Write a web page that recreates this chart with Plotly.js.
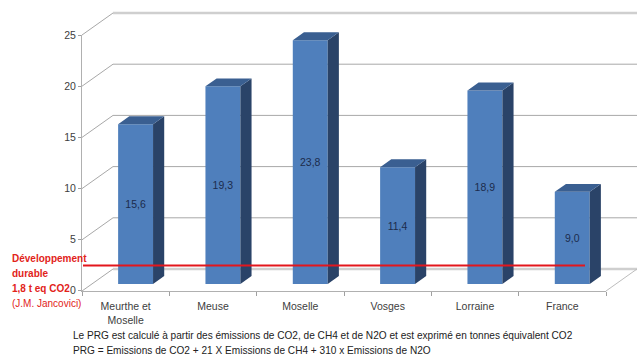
<!DOCTYPE html>
<html>
<head>
<meta charset="utf-8">
<script src="https://cdn.plot.ly/plotly-3.0.1.min.js"></script>
<style>
  html, body { margin: 0; padding: 0; background: #ffffff; }
  #chart { width: 642px; height: 356px; }
</style>
</head>
<body>
<div id="chart"></div>
<script>
// PRG per inhabitant (t eq CO2) by territory
const categories = ['Meurthe et Moselle', 'Meuse', 'Moselle', 'Vosges', 'Lorraine', 'France'];
const prgValues = [15.6, 19.3, 23.8, 11.4, 18.9, 9.0];
const yTicks = [0, 5, 10, 15, 20, 25];
const sustainableTarget = 1.8;

const targetLabel = ['Développement', 'durable', '1,8 t eq CO2', '(J.M. Jancovici)'];
const footnotes = [
  'Le PRG est calculé à partir des émissions de CO2, de CH4 et de N2O et est exprimé en tonnes équivalent CO2',
  'PRG = Emissions de CO2 + 21 X Emissions de CH4 + 310 x Emissions de N2O'
];

// ---- page geometry (pixels) ----
const W = 642, H = 356;
const fx = px => px / W;
const fy = py => 1 - py / H;

const FRONT_L = 82, FRONT_R = 606;   // front floor edge
const FRONT_Y0 = 291, FRONT_Y25 = 35; // front value scale
const DEPTH_X = 31, DEPTH_Y = 22;     // full depth of the 3D box
const BAR_D0 = 0.32, BAR_D1 = 0.68;   // bar front / back depth fractions

const catPx = (FRONT_R - FRONT_L) / categories.length;
const yPx = (FRONT_Y0 - FRONT_Y25) / 25;
const yMax = yTicks[yTicks.length - 1];

// pixel -> data-unit converters for the bar plane
const dxUnits = px => px / catPx;
const dyUnits = px => px / yPx;

const barW = 0.40;
const faceDx = dxUnits((BAR_D1 - BAR_D0) * DEPTH_X);
const faceDy = dyUnits((BAR_D1 - BAR_D0) * DEPTH_Y);

const fmt = v => v.toFixed(1).replace('.', ',');
const wrapLabel = s => s.replace(' et ', ' et<br>');

const xs = categories.map((_, i) => i);

// side and top faces of each bar, built from the values
const sideX = [], sideY = [], topX = [], topY = [];
prgValues.forEach((v, i) => {
  const xl = i - barW / 2, xr = i + barW / 2;
  sideX.push(xr, xr, xr + faceDx, xr + faceDx, xr, null);
  sideY.push(0, v, v + faceDy, faceDy, 0, null);
  topX.push(xl, xr, xr + faceDx, xl + faceDx, xl, null);
  topY.push(v, v, v + faceDy, v + faceDy, v, null);
});

const traces = [
  {
    type: 'bar', x: xs, y: prgValues, width: barW,
    marker: { color: '#4f7fbc', line: { width: 0 } },
    text: prgValues.map(fmt), textposition: 'inside', insidetextanchor: 'middle',
    textangle: 0, constraintext: 'none',
    textfont: { family: 'Liberation Sans, Arial, sans-serif', size: 10.5, color: '#1c2c4c' },
    hoverinfo: 'skip', xaxis: 'x', yaxis: 'y'
  },
  {
    type: 'scatter', mode: 'lines', x: sideX, y: sideY, fill: 'toself',
    fillcolor: '#2a4368', line: { width: 0 }, hoverinfo: 'skip', xaxis: 'x', yaxis: 'y'
  },
  {
    type: 'scatter', mode: 'lines', x: topX, y: topY, fill: 'toself',
    fillcolor: '#3a5f91', line: { width: 0 }, hoverinfo: 'skip', xaxis: 'x', yaxis: 'y'
  },
  {
    // anchors the front category axis
    type: 'scatter', mode: 'markers', x: categories.map(wrapLabel), y: categories.map(() => 1),
    marker: { opacity: 0 }, hoverinfo: 'skip', xaxis: 'x2', yaxis: 'y2'
  }
];

const gridGrey = '#a8a8a8';
const shapes = [];

// back wall gridlines and side-wall diagonals
yTicks.forEach(v => {
  const yf = FRONT_Y0 - v * yPx;
  const yb = yf - DEPTH_Y;
  const isTop = v === yMax, isFloor = v === 0;
  shapes.push({
    type: 'line', xref: 'paper', yref: 'paper', layer: 'below',
    x0: fx(FRONT_L + DEPTH_X), x1: fx(FRONT_R + DEPTH_X), y0: fy(yb), y1: fy(yb),
    line: { color: isTop || isFloor ? '#cfcfcf' : gridGrey, width: isTop || isFloor ? 2.5 : 1 }
  });
  shapes.push({
    type: 'line', xref: 'paper', yref: 'paper', layer: 'below',
    x0: fx(FRONT_L), x1: fx(FRONT_L + DEPTH_X), y0: fy(yf), y1: fy(yb),
    line: { color: gridGrey, width: 1 }
  });
});
// right edge of the floor
shapes.push({
  type: 'line', xref: 'paper', yref: 'paper', layer: 'below',
  x0: fx(FRONT_R), x1: fx(FRONT_R + DEPTH_X), y0: fy(FRONT_Y0), y1: fy(FRONT_Y0 - DEPTH_Y),
  line: { color: '#bdbdbd', width: 1 }
});
// sustainable-development threshold
shapes.push({
  type: 'line', xref: 'paper', yref: 'y', layer: 'above',
  x0: fx(FRONT_L + 1), x1: fx(585), y0: sustainableTarget, y1: sustainableTarget,
  line: { color: '#e3161c', width: 2 }
});

const txtFont = { family: 'Liberation Sans, Arial, sans-serif', size: 10.5, color: '#404040' };
const red = '#e2231a';
const annotations = [];
const redRows = [258, 273, 288, 303];
targetLabel.forEach((t, i) => {
  annotations.push({
    xref: 'paper', yref: 'paper', x: fx(10), y: fy(redRows[i]),
    xanchor: 'left', yanchor: 'middle', showarrow: false,
    text: i < 3 ? '<b>' + t + '</b>' : t,
    font: { family: 'Liberation Sans, Arial, sans-serif', size: 10, color: red }
  });
});
footnotes.forEach((t, i) => {
  annotations.push({
    xref: 'paper', yref: 'paper', x: fx(71), y: fy(335 + i * 15),
    xanchor: 'left', yanchor: 'middle', showarrow: false, text: t,
    font: { family: 'Liberation Sans, Arial, sans-serif', size: 10.1, color: '#222222' }
  });
});

const dxBar = BAR_D0 * DEPTH_X, dyBar = BAR_D0 * DEPTH_Y;
const yLow = -0.02; // keeps the 0 tick just inside the front axis range

const layout = {
  width: W, height: H,
  margin: { l: 0, r: 0, t: 0, b: 0, pad: 0 },
  paper_bgcolor: '#ffffff', plot_bgcolor: 'rgba(0,0,0,0)',
  showlegend: false,
  xaxis: {
    domain: [fx(FRONT_L + dxBar), fx(FRONT_R + dxBar)], range: [-0.5, categories.length - 0.5],
    visible: false, fixedrange: true, anchor: 'y'
  },
  yaxis: {
    domain: [fy(FRONT_Y0 - dyBar), fy(FRONT_Y25 - dyBar)], range: [0, yMax],
    visible: false, fixedrange: true, anchor: 'x'
  },
  xaxis2: {
    domain: [fx(FRONT_L), fx(FRONT_R)], anchor: 'y2', type: 'category',
    categoryorder: 'array', categoryarray: categories.map(wrapLabel),
    range: [-0.5, categories.length - 0.5],
    tickson: 'boundaries', ticks: 'outside', ticklen: 4, tickcolor: '#a0a0a0',
    showline: true, linecolor: '#b0b0b0', linewidth: 1, ticklabelstandoff: 6,
    showgrid: false, zeroline: false, tickfont: txtFont, fixedrange: true
  },
  yaxis2: {
    domain: [fy(FRONT_Y0 + yLow * yPx), fy(FRONT_Y25)], anchor: 'x2', range: [yLow, yMax],
    tickvals: yTicks, ticks: 'outside', ticklen: 3, tickcolor: '#a0a0a0',
    showline: true, linecolor: '#b0b0b0', linewidth: 1,
    showgrid: false, zeroline: false, tickfont: txtFont, ticklabelstandoff: 0, fixedrange: true
  },
  shapes: shapes,
  annotations: annotations
};

Plotly.newPlot('chart', traces, layout, { displayModeBar: false, staticPlot: true });
</script>
</body>
</html>
